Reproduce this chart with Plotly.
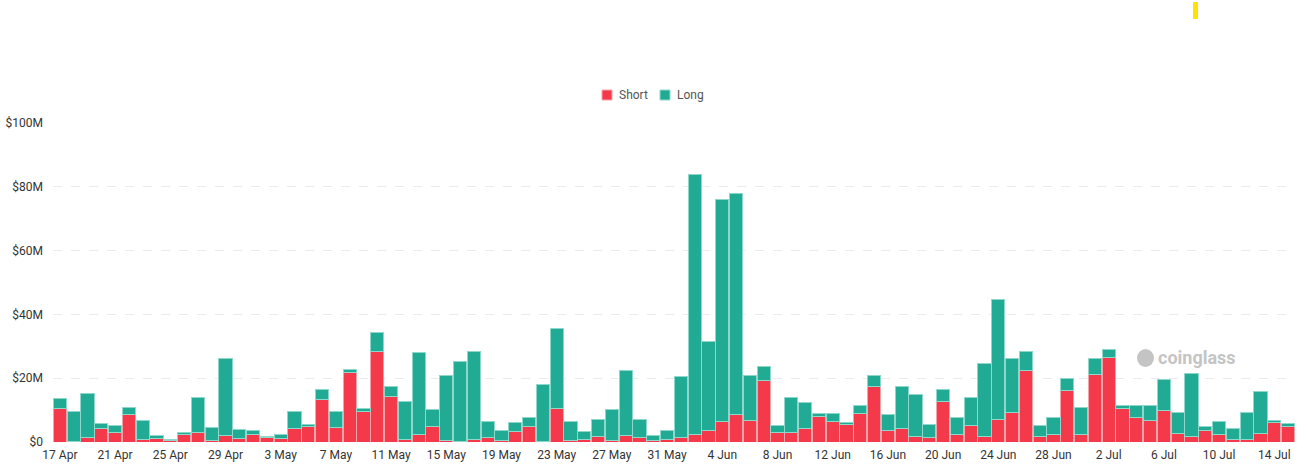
import pandas as pd
import plotly.graph_objects as go

dates = pd.date_range("2024-04-17", "2024-07-15", freq="D")

total = [13.7, 9.7, 15.3, 5.8, 5.3, 10.9, 6.8, 2.0, 0.8, 3.0,
         14.1, 4.5, 26.2, 4.0, 3.7, 1.8, 2.5, 9.6, 5.5, 16.5,
         9.5, 22.7, 10.5, 34.4, 17.4, 12.7, 28.0, 10.2, 20.9, 25.3,
         28.5, 6.4, 3.5, 6.1, 7.6, 18.1, 35.6, 6.3, 3.3, 7.0,
         10.1, 22.3, 7.0, 2.0, 3.5, 20.4, 84.0, 31.6, 75.9, 77.9,
         20.7, 23.7, 5.2, 13.9, 12.5, 8.8, 9.0, 6.1, 11.6, 20.9,
         8.7, 17.3, 14.8, 5.6, 16.6, 7.7, 14.0, 24.5, 44.8, 26.3,
         28.5, 5.1, 7.8, 19.8, 10.9, 26.1, 29.0, 11.5, 11.5, 11.4,
         19.5, 9.2, 21.4, 4.9, 6.4, 4.1, 9.1, 15.7, 6.7, 5.8]

short = [10.6, 0.3, 1.3, 4.2, 3.1, 8.6, 0.7, 1.0, 0.4, 2.5,
         2.9, 0.4, 2.1, 1.0, 2.5, 1.4, 1.0, 4.3, 5.0, 13.3,
         4.6, 21.7, 9.7, 28.4, 14.3, 0.9, 2.2, 5.0, 0.6, 0.3,
         0.9, 1.5, 0.5, 3.4, 4.8, 0.3, 10.5, 0.6, 0.9, 1.6,
         0.6, 2.0, 1.5, 0.5, 0.7, 1.3, 2.5, 3.5, 6.3, 8.5,
         6.7, 19.4, 2.9, 2.9, 4.1, 7.9, 6.3, 5.6, 8.9, 17.3,
         3.5, 4.2, 1.7, 1.3, 12.6, 2.2, 5.2, 1.6, 7.2, 9.3,
         22.3, 1.6, 2.3, 16.1, 2.2, 21.3, 26.4, 10.5, 7.8, 6.7,
         9.9, 2.8, 1.7, 3.5, 2.3, 0.9, 0.9, 2.6, 6.0, 4.9]

long_ = [round(t - s, 2) for t, s in zip(total, short)]

short_usd = [v * 1e6 for v in short]
long_usd = [v * 1e6 for v in long_]

series_names = ["Short", "Long"]
series_colors = ["#F43A4A", "#22AB94"]
series_edges = ["#F7A3AA", "#8ED8CB"]

W, H = 1309, 472
L, R, T, B = 53, 14, 123, 30
PW, PH = W - L - R, H - T - B


def px_x(px):
    return (px - L) / PW


def px_y(py):
    return (H - B - py) / PH


fig = go.Figure()
for vals, name, col, edge in zip([short_usd, long_usd], series_names, series_colors, series_edges):
    fig.add_trace(go.Bar(x=dates, y=vals, name=name,
                         marker=dict(color=col, line=dict(color=edge, width=1))))

fig.update_layout(
    width=W, height=H,
    margin=dict(l=L, r=R, t=T, b=B, autoexpand=False),
    barmode="stack", bargap=0.04,
    plot_bgcolor="white", paper_bgcolor="white",
    font=dict(family="Roboto, DejaVu Sans, sans-serif", size=12, color="#333333"),
    showlegend=False,
)
fig.update_xaxes(
    type="date", automargin=False,
    range=[pd.Timestamp("2024-04-16 12:00"), pd.Timestamp("2024-07-15 12:00")],
    tick0="2024-04-17", dtick=4 * 86400000, tickformat="%-d %b",
    showgrid=False, showline=False, zeroline=False, ticks="", ticklen=0,
    ticklabelstandoff=4,
)
fig.update_yaxes(
    automargin=False,
    range=[0, 100e6], tickvals=[0, 20e6, 40e6, 60e6, 80e6, 100e6],
    ticktext=["$0", "$20M", "$40M", "$60M", "$80M", "$100M"],
    showgrid=True, gridcolor="#EBEBEB", griddash="dash", gridwidth=1,
    zeroline=False, showline=False, ticks="", ticklabelstandoff=9,
)

# custom legend (tight spacing like the reference)
legend_pos = [(602, 617), (660, 675)]
for (sx, tx), name, col, edge in zip(legend_pos, series_names, series_colors, series_edges):
    fig.add_shape(type="rect", xref="paper", yref="paper",
                  x0=px_x(sx), x1=px_x(sx + 10), y0=px_y(100), y1=px_y(90),
                  fillcolor=col, line=dict(color=edge, width=1))
    fig.add_annotation(xref="paper", yref="paper", x=px_x(tx), y=px_y(95),
                       text=name, showarrow=False, xanchor="left", yanchor="middle",
                       font=dict(size=12, color="#555555"))

# watermark
fig.add_annotation(xref="paper", yref="paper",
                   x=px_x(1197), y=px_y(357),
                   text="<b>coinglass</b>", showarrow=False,
                   font=dict(size=18, color="#C4C4C4", family="Roboto, sans-serif"),
                   xanchor="center", yanchor="middle")
fig.add_shape(type="circle", xref="paper", yref="paper",
              x0=px_x(1137), x1=px_x(1154),
              y0=px_y(367), y1=px_y(349),
              fillcolor="#C4C4C4", line=dict(width=0))

# small yellow marker at top right
fig.add_shape(type="rect", xref="paper", yref="paper",
              x0=px_x(1193), x1=px_x(1198),
              y0=px_y(19), y1=px_y(2),
              fillcolor="#FFE400", line=dict(width=0))

fig.write_html("out.html")
